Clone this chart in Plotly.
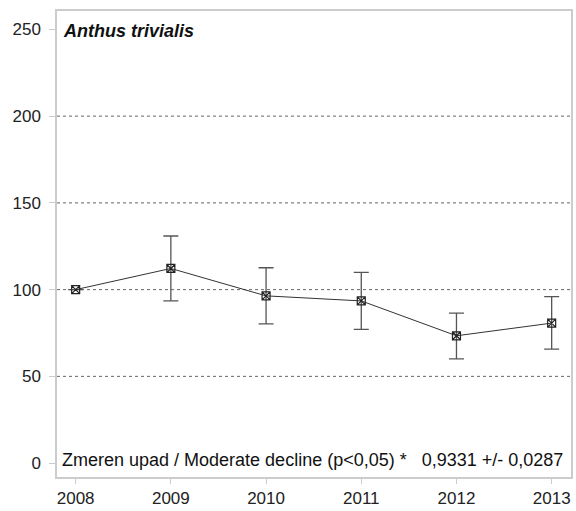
import plotly.graph_objects as go

years = [2008, 2009, 2010, 2011, 2012, 2013]
index = [100, 112.2, 96.4, 93.5, 73.4, 80.7]
upper = [100, 130.9, 112.6, 109.9, 86.4, 96.0]
lower = [100, 93.5, 80.3, 77.1, 60.1, 65.7]
yticks = [0, 50, 100, 150, 200, 250]
species = "Anthus trivialis"
trend_text = "Zmeren upad / Moderate decline (p<0,05) *   0,9331 +/- 0,0287"

err_plus = [u - v for u, v in zip(upper, index)]
err_minus = [v - l for v, l in zip(index, lower)]

FONT = "Liberation Sans, Arial, Helvetica, sans-serif"

fig = go.Figure()
fig.add_trace(go.Scatter(
    x=years, y=index, mode="lines+markers",
    line=dict(color="#333333", width=1),
    marker=dict(symbol="square-x-open", size=8, color="#222222", line=dict(width=1.2)),
    error_y=dict(type="data", symmetric=False, array=err_plus, arrayminus=err_minus,
                 color="#555555", thickness=1.3, width=7.5),
    showlegend=False,
))

for yv in [50, 100, 150, 200]:
    fig.add_shape(type="line", xref="paper", x0=0, x1=1, yref="y", y0=yv, y1=yv,
                  line=dict(color="#666666", width=1, dash="dot"), layer="below")

fig.add_annotation(text="<b><i>" + species + "</i></b>", xref="paper", yref="y",
                   x=0.008, y=249, xanchor="left", yanchor="middle", showarrow=False,
                   font=dict(size=18, color="#111111", family=FONT))
fig.add_annotation(text=trend_text, xref="paper", yref="y",
                   x=0.006, y=2, xanchor="left", yanchor="middle", showarrow=False,
                   font=dict(size=18, color="#111111", family=FONT))

fig.update_layout(
    width=576, height=511,
    margin=dict(l=57, r=3, t=11, b=31),
    paper_bgcolor="white", plot_bgcolor="white",
    font=dict(family=FONT, size=17, color="#222222"),
    xaxis=dict(range=[2007.804, 2013.203], tickvals=years, ticktext=[str(y) for y in years],
               showgrid=False, zeroline=False, showline=True, linecolor="#cccccc",
               linewidth=1.5, mirror=True, ticks="outside", ticklen=5, tickcolor="#cccccc"),
    yaxis=dict(range=[-8, 260.6], tickvals=yticks, showgrid=False, zeroline=False,
               showline=True, linecolor="#cccccc", linewidth=1.5, mirror=True,
               ticks="outside", ticklen=6, tickcolor="#cccccc", ticklabelstandoff=5),
)

post = (
    "document.documentElement.style.margin='0';"
    "document.body.style.margin='0';"
    "document.documentElement.style.overflow='hidden';"
    "document.body.style.overflow='hidden';"
    "document.querySelectorAll('.svg-container').forEach(function(e){"
    "e.style.display='block';e.style.verticalAlign='top';});"
    "var gd=document.querySelector('.plotly-graph-div');"
    "if(gd&&gd.parentElement){gd.parentElement.style.lineHeight='0';"
    "gd.parentElement.style.fontSize='0';}"
)

fig.write_html("out.html", config={"displayModeBar": False}, post_script=post)
